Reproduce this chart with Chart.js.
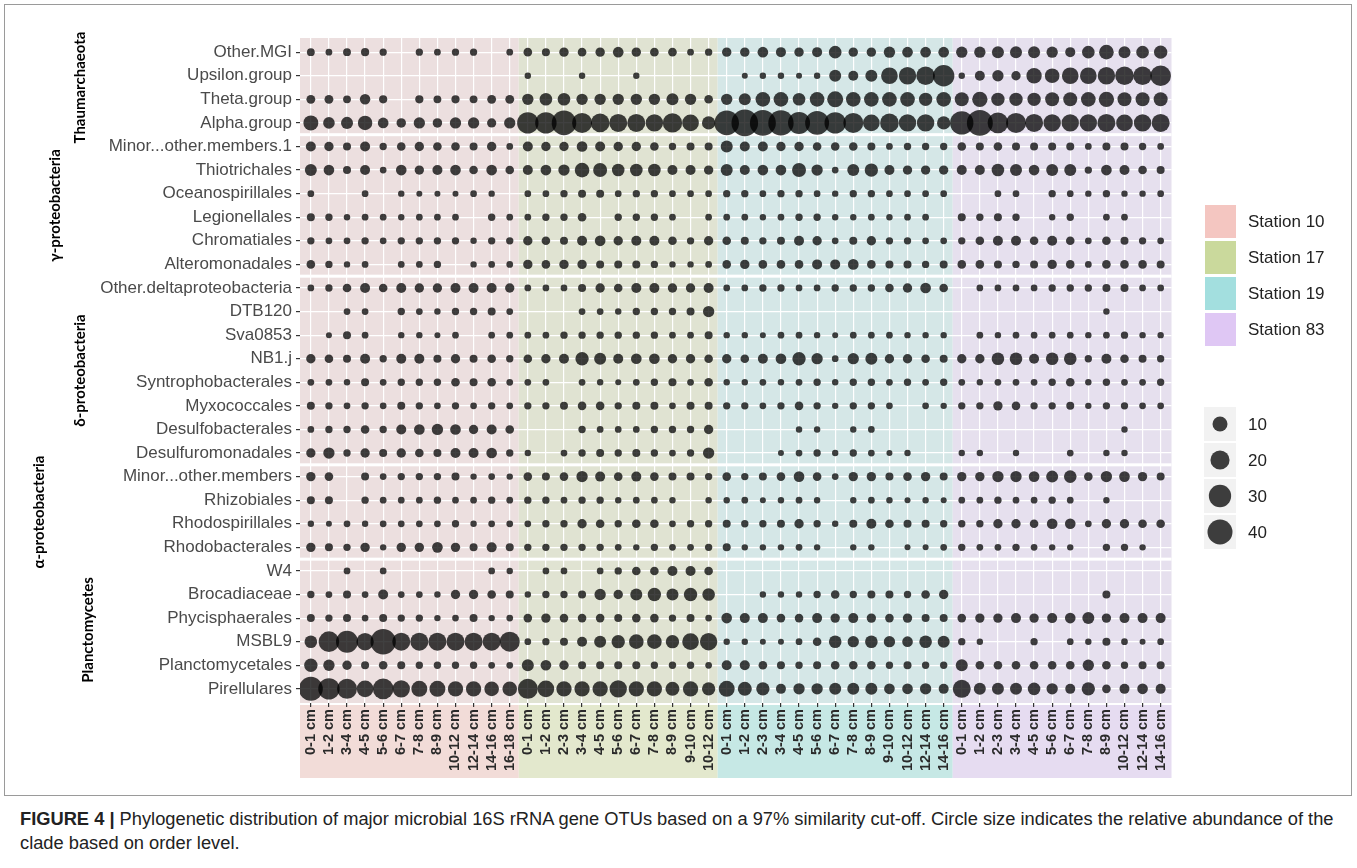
<!DOCTYPE html>
<html lang="en">
<head>
    <meta charset="UTF-8">
    <title>Figure 4 | OTU bubble chart</title>
    <script src="https://cdn.jsdelivr.net/npm/chart.js"></script>
    <style>
        body { margin: 0; background: #fff; font-family: "Liberation Sans", Arial, sans-serif; }
        #frame { position: absolute; left: 4px; top: 4px; width: 1348px; height: 792px; border: 1px solid #9a9a9a; box-sizing: border-box; }
        #wrap { position: absolute; left: 0; top: 0; width: 1357px; height: 800px; }
        #caption { position: absolute; left: 20px; top: 807px; width: 1335px; font-size: 18.3px; line-height: 24px; color: #222; white-space: nowrap; }
        #caption b { font-weight: bold; }
    </style>
</head>
<body>
    <div id="frame"></div>
    <div id="wrap"><canvas id="bubbleChart"></canvas></div>
    <div id="caption"><b>FIGURE 4 |</b> Phylogenetic distribution of major microbial 16S rRNA gene OTUs based on a 97% similarity cut-off. Circle size indicates the relative abundance of the<br>clade based on order level.</div>

    <script>
        // Row labels (top to bottom)
        const taxa = ['Other.MGI', 'Upsilon.group', 'Theta.group', 'Alpha.group',
            'Minor...other.members.1', 'Thiotrichales', 'Oceanospirillales', 'Legionellales', 'Chromatiales', 'Alteromonadales',
            'Other.deltaproteobacteria', 'DTB120', 'Sva0853', 'NB1.j', 'Syntrophobacterales', 'Myxococcales', 'Desulfobacterales', 'Desulfuromonadales',
            'Minor...other.members', 'Rhizobiales', 'Rhodospirillales', 'Rhodobacterales',
            'W4', 'Brocadiaceae', 'Phycisphaerales', 'MSBL9', 'Planctomycetales', 'Pirellulares'];

        // Facet groups: first row, last row
        const groupNames = ['Thaumarchaeota', 'γ-proteobacteria', 'δ-proteobacteria', 'α-proteobacteria', 'Planctomycetes'];
        const groupRows = [[0, 3], [4, 9], [10, 17], [18, 21], [22, 27]];

        // Depth labels per station
        const depths10 = ['0-1 cm', '1-2 cm', '3-4 cm', '4-5 cm', '5-6 cm', '6-7 cm', '7-8 cm', '8-9 cm', '10-12 cm', '12-14 cm', '14-16 cm', '16-18 cm'];
        const depths17 = ['0-1 cm', '1-2 cm', '2-3 cm', '3-4 cm', '4-5 cm', '5-6 cm', '6-7 cm', '7-8 cm', '8-9 cm', '9-10 cm', '10-12 cm'];
        const depths19 = ['0-1 cm', '1-2 cm', '2-3 cm', '3-4 cm', '4-5 cm', '5-6 cm', '6-7 cm', '7-8 cm', '8-9 cm', '9-10 cm', '10-12 cm', '12-14 cm', '14-16 cm'];
        const depths83 = ['0-1 cm', '1-2 cm', '2-3 cm', '3-4 cm', '4-5 cm', '5-6 cm', '6-7 cm', '7-8 cm', '8-9 cm', '10-12 cm', '12-14 cm', '14-16 cm'];

        // Relative abundance, one row per taxon (same order as taxa), one value per depth; 0 = absent
        const station10 = [
            [0.8, 0.3, 0.8, 1.0, 0.5, 0, 0.5, 0.3, 0.5, 0.5, 0, 0.3],
            [0, 0, 0, 0, 0, 0, 0, 0, 0, 0, 0, 0],
            [1.5, 1.5, 0.8, 3, 1, 0, 1, 0.8, 1, 0.8, 1.5, 1.5],
            [10, 4.4, 5, 9, 3.2, 2, 4, 2, 4, 4, 1.8, 4],
            [2.5, 1.9, 0.9, 2.5, 0.55, 1.3, 1.9, 1.3, 1.3, 0.9, 1.9, 0.3],
            [4.9, 3.2, 0.9, 2.5, 0.3, 3.2, 1.9, 2.5, 3.2, 1.3, 3.2, 1.3],
            [0.3, 0, 0, 0.3, 0, 0.2, 0.1, 0.1, 0.1, 0.3, 0.2, 0],
            [0.9, 0.55, 0.2, 0.3, 0.3, 0.2, 0.3, 0.3, 0.3, 0, 0.55, 0.3],
            [0.55, 0.3, 0.3, 0.55, 0.3, 0.55, 0.55, 0.55, 0.55, 0.2, 0.55, 0.55],
            [1.3, 0.55, 0.2, 0.3, 0, 0.3, 0.3, 0.55, 0, 0.2, 0.3, 0.3],
            [0.3, 0.55, 1.3, 2.5, 1.3, 2.5, 1.9, 1.9, 2.5, 2.5, 2.5, 1.9],
            [0, 0, 0.3, 0.3, 0, 0.55, 0.3, 0.2, 0.55, 0.55, 0.9, 0.3],
            [0, 0.1, 0.9, 0.3, 0, 0.2, 0.2, 0.1, 0.3, 0, 0.3, 0.3],
            [1.9, 1.3, 0.9, 2.5, 0.55, 2.5, 2.5, 0.9, 1.9, 0.9, 1.3, 0.55],
            [0.3, 0.3, 0.2, 0.9, 0.3, 0.55, 0.55, 0.55, 1.3, 0.9, 1.3, 0.3],
            [0.9, 0.55, 0.3, 0.55, 0.3, 0.9, 0.55, 0.3, 0.55, 0.3, 0.55, 0.3],
            [0.3, 0.55, 0.55, 1.3, 0.55, 2.5, 3.2, 4, 3.2, 1.9, 2.5, 1.3],
            [1.9, 4, 0.55, 1.9, 0.9, 1.9, 1.3, 0.9, 2.5, 2.5, 3.2, 0.55],
            [1.9, 1.3, 0, 0.9, 0.3, 0.55, 0.55, 0.55, 0.9, 0.2, 0.3, 0.2],
            [0.9, 0.9, 0, 0.55, 0.3, 0.3, 0.3, 0.55, 0.3, 0.3, 0.55, 0.3],
            [0.2, 0.1, 0.3, 0.2, 0.3, 0.3, 0.3, 0.3, 0.55, 0.2, 0.3, 0.3],
            [1.9, 0.9, 0.55, 1.9, 0.2, 1.9, 1.9, 3.2, 1.9, 0.9, 2.5, 0.9],
            [0, 0, 0.3, 0, 0.3, 0, 0, 0, 0, 0, 0.3, 0.2],
            [0.55, 0.3, 0.9, 0.3, 2.5, 0.3, 0.3, 0.2, 1.9, 1.9, 1.3, 0.9],
            [0.9, 0.55, 0.9, 0.3, 0.9, 0.55, 0.55, 0.2, 0.3, 0.9, 0.2, 0.3],
            [5.8, 24.5, 29, 15.4, 41.6, 17, 17, 17, 17, 17, 17, 22.5],
            [7, 4, 1.9, 0.9, 1.3, 0.9, 0.55, 0.55, 0.55, 0.55, 0.3, 0.3],
            [36, 27, 22.5, 13.7, 24.5, 15.4, 12.1, 12.1, 10.7, 10.7, 9.3, 9.3]
        ];

        const station17 = [
            [1.3, 0.9, 1.9, 1.3, 1.9, 3.2, 1.9, 1.3, 1.3, 0.3, 0.55],
            [0.2, 0, 0, 0.2, 0, 0, 0.2, 0, 0, 0, 0],
            [4, 5.8, 5.8, 4, 4, 4, 4, 4, 4.9, 4, 1.3],
            [27, 27, 38.6, 22.5, 18.6, 17, 17, 15.4, 20.6, 13.7, 7],
            [2.5, 1.9, 1.9, 3.2, 2.5, 1.9, 1.9, 1.3, 0.55, 0.9, 0.9],
            [2.5, 3.2, 4, 9.3, 8.1, 5.8, 5.8, 5.8, 2.5, 2.5, 1.9],
            [0.3, 0.3, 0.55, 0.9, 0.9, 0.3, 0.55, 0.55, 0.3, 0.3, 0.3],
            [0.3, 0.55, 0.55, 1.3, 0, 0.55, 0.55, 0.55, 0.3, 0, 0.3],
            [1.9, 1.3, 0.9, 2.5, 3.2, 1.9, 2.5, 2.5, 1.3, 0.55, 1.9],
            [1.9, 1.3, 1.9, 1.9, 0.9, 0.9, 0.9, 0.55, 0.2, 0.2, 0.3],
            [0.3, 0.3, 0.3, 0.9, 1.9, 1.3, 2.5, 2.5, 1.9, 1.9, 2.5],
            [0, 0, 0, 0.3, 0.3, 0.2, 0.55, 0.55, 0.55, 0.9, 4],
            [0.3, 0.3, 0.55, 0.55, 0.55, 0.55, 0.55, 0.55, 0.3, 0.3, 0.9],
            [1.3, 1.9, 2.5, 7, 4.9, 2.5, 3.2, 3.2, 1.9, 1.9, 1.3],
            [0.3, 0.3, 0, 0.3, 0.2, 0.1, 0.3, 0.55, 0.9, 0.3, 1.3],
            [0.55, 0.55, 0.9, 1.3, 1.3, 0.55, 0.9, 0.9, 0.3, 0.9, 0.9],
            [0, 0, 0, 0.55, 0.3, 0.3, 0.3, 0.55, 0.55, 0.55, 1.9],
            [0.2, 0, 0.3, 0.55, 0.9, 0.55, 0.9, 0.55, 0.3, 0.55, 4],
            [1.3, 0.9, 1.3, 4, 2.5, 1.3, 2.5, 1.3, 0.9, 0.9, 0.55],
            [0.55, 0.55, 0.3, 0.55, 0.55, 0.2, 0.3, 0.3, 0.2, 0, 0.2],
            [0.3, 0.55, 0.55, 1.9, 1.3, 0.55, 1.3, 1.3, 0.3, 0.55, 0.55],
            [0.55, 0.55, 0.55, 0.55, 0.55, 0.3, 0.2, 0.55, 0.3, 0.3, 0.55],
            [0, 0.3, 0.3, 0, 0.3, 0.55, 1.3, 1.3, 2.5, 2.5, 1.3],
            [0.2, 0.55, 0.55, 0.9, 4, 1.9, 4.9, 7, 4.9, 7, 5.8],
            [1.3, 1.9, 1.3, 1.3, 1.3, 0.9, 1.3, 1.3, 0.55, 0.9, 0.3],
            [0.3, 0.55, 0.9, 2.5, 4.9, 7, 9.3, 9.3, 7, 13.7, 15.4],
            [4.9, 3.2, 1.9, 0.9, 0.9, 0.9, 0.9, 0.55, 0.55, 0.55, 0.3],
            [22.5, 13.7, 10.7, 10.7, 10.7, 15.4, 10.7, 10.7, 8.1, 10.7, 7]
        ];

        const station19 = [
            [1.9, 1.9, 3.2, 2.5, 1.9, 2.5, 5.8, 1.9, 1.9, 4, 3.2, 3.2, 3.2],
            [0, 0.1, 0.2, 0.2, 0.1, 0.2, 4.9, 2.5, 4.9, 13.7, 15.4, 18.6, 27],
            [4, 4.9, 9.3, 9.3, 5.8, 9.3, 12.1, 9.3, 9.3, 9.3, 9.3, 7, 9.3],
            [38.6, 46.8, 44, 41.6, 29, 36, 27, 22.5, 13.7, 18.6, 15.4, 15.4, 7],
            [4.9, 2.5, 2.5, 1.9, 1.9, 1.3, 1.3, 1.3, 0.9, 0.3, 0.55, 0.55, 0.55],
            [4.9, 2.5, 3.2, 3.2, 8.1, 4, 0.3, 4.9, 7, 2.5, 1.9, 1.9, 1.9],
            [0.55, 0.55, 0.3, 0.55, 0.55, 0.3, 0.2, 0.55, 0.55, 0.3, 0.3, 0.3, 0.3],
            [0.3, 0.3, 0.2, 0.3, 0.55, 0.55, 0.2, 0.2, 0.3, 0.2, 0.3, 0.3, 0],
            [1.3, 0.9, 0.55, 0.9, 2.5, 1.9, 0.3, 0.9, 1.9, 0.55, 0.55, 0.3, 0.3],
            [1.3, 1.9, 1.3, 1.3, 1.3, 2.5, 2.5, 3.2, 1.3, 0.9, 0.9, 0.55, 0.9],
            [0.3, 0.3, 0.55, 0.55, 0.3, 0.3, 0.55, 0.55, 0.55, 1.3, 1.9, 3.2, 1.3],
            [0, 0, 0, 0, 0, 0, 0, 0, 0, 0, 0, 0, 0],
            [0.2, 0.2, 0.1, 0.3, 0.3, 0.2, 0.1, 0.3, 0.3, 0.3, 0.2, 0.2, 0.2],
            [1.9, 1.3, 2.5, 3.2, 7, 4, 0.3, 4, 4.9, 1.9, 1.9, 1.3, 0.9],
            [0.2, 0.2, 0.3, 0.2, 0.3, 0.55, 0.2, 0.55, 0.55, 0.3, 0.55, 0.3, 0.55],
            [0.55, 0.55, 0.3, 0.55, 1.3, 0.55, 0.2, 0.55, 0.55, 0.3, 0, 0.3, 0.2],
            [0, 0, 0, 0, 0.2, 0.2, 0, 0.2, 0.3, 0, 0, 0, 0],
            [0, 0, 0, 0.1, 0.3, 0.55, 0.2, 0.55, 0.3, 0.1, 0.2, 0, 0],
            [1.3, 0.55, 0.9, 1.3, 3.2, 1.3, 0.3, 1.9, 1.9, 0.9, 1.3, 1.9, 0.9],
            [0.2, 0.3, 0.1, 0.2, 0.3, 0.2, 0, 0.2, 0.3, 0.2, 0.1, 0.2, 0.1],
            [0.9, 0.55, 0.55, 0.9, 1.9, 0.55, 0.2, 0.9, 2.5, 1.3, 0.9, 0.9, 0.55],
            [0.9, 0.2, 0.2, 0.2, 0.3, 0.2, 0, 0.2, 0.2, 0, 0.1, 0.1, 0.3],
            [0, 0, 0, 0, 0, 0, 0, 0, 0, 0, 0, 0, 0],
            [0, 0, 0.2, 0.2, 0.2, 0.55, 1.3, 0.55, 0.9, 0.9, 0.55, 1.3, 1.9],
            [3.2, 2.5, 2.5, 1.3, 1.3, 2.5, 1.9, 2.5, 1.9, 1.3, 1.9, 0.9, 0.9],
            [0.2, 0.2, 0.1, 0.1, 0.3, 1.3, 5.8, 4, 5.8, 4, 3.2, 5.8, 4.9],
            [2.5, 2.5, 1.3, 0.9, 0.55, 0.9, 1.3, 1.3, 1.3, 0.55, 0.9, 0.55, 0.55],
            [12.1, 8.1, 7, 2.5, 4, 4, 4.9, 4.9, 4.9, 3.2, 3.2, 4, 2.5]
        ];

        const station83 = [
            [4, 4, 4.9, 4.9, 4.9, 4, 2.5, 5.8, 9.3, 4.9, 5.8, 7],
            [0.2, 2.5, 4, 1.9, 10.7, 9.3, 13.7, 13.7, 15.4, 18.6, 18.6, 24.5],
            [8.1, 10.7, 7, 7, 7, 8.1, 8.1, 9.3, 10.7, 8.1, 8.1, 8.1],
            [33.9, 44, 24.5, 22.5, 17, 15.4, 15.4, 15.4, 17, 13.7, 15.4, 17],
            [1.3, 0.9, 1.3, 0.9, 0.9, 0.9, 0.9, 0.3, 0.9, 0.9, 0.55, 0.3],
            [2.5, 2.5, 5.8, 4.9, 3.2, 4.9, 4.9, 0.55, 3.2, 2.5, 1.3, 0.9],
            [0, 0, 0.3, 0.3, 0, 0.55, 0.3, 0.2, 0.55, 0.2, 0.2, 0.3],
            [0.9, 0.55, 0.9, 0.55, 0, 0.2, 0.55, 0, 0.3, 0.3, 0, 0],
            [0.55, 1.3, 2.5, 2.5, 1.3, 2.5, 1.3, 0.3, 1.3, 0.9, 0.55, 0.3],
            [1.3, 1.3, 0.9, 0.55, 0.9, 1.9, 1.3, 0.3, 1.3, 1.3, 1.3, 0.9],
            [0, 0.3, 0.3, 0.3, 0.3, 0.55, 0.55, 0.55, 0.9, 0.9, 0.3, 0.3],
            [0, 0, 0, 0, 0, 0, 0, 0, 0.2, 0, 0, 0],
            [0, 0.3, 0.2, 0.3, 0.3, 0.3, 0.3, 0.2, 0.3, 0.55, 0.2, 0.2],
            [1.9, 1.9, 5.8, 5.8, 2.5, 5.8, 5.8, 0.55, 2.5, 1.3, 0.9, 0.55],
            [0.3, 0.2, 0.3, 0.3, 0.3, 0.55, 1.3, 0.2, 0.55, 0.3, 0.3, 0.55],
            [0.55, 0.55, 1.9, 1.3, 0.55, 0.55, 0.9, 0.2, 0.55, 0.55, 0.3, 0.3],
            [0, 0, 0, 0, 0, 0, 0, 0, 0, 0.2, 0, 0],
            [0.2, 0.2, 0, 0.2, 0, 0, 0.3, 0, 0.2, 0.2, 0, 0],
            [1.9, 1.9, 4, 4, 3.2, 4.9, 5.8, 1.3, 4, 3.2, 1.9, 0.9],
            [0.3, 0.3, 0.55, 0.3, 0.3, 0.55, 0.3, 0, 0.2, 0, 0, 0],
            [0.55, 0.55, 1.9, 1.9, 1.3, 3.2, 3.2, 0.3, 1.9, 1.9, 1.3, 1.3],
            [0.55, 0.3, 0.3, 0.55, 0.3, 0.2, 0.2, 0, 0.55, 0.55, 0.2, 0],
            [0, 0, 0, 0, 0, 0, 0, 0, 0, 0, 0, 0],
            [0, 0, 0, 0, 0, 0, 0, 0, 0.9, 0, 0, 0],
            [1.3, 1.9, 1.9, 2.5, 1.9, 2.5, 3.2, 4.9, 1.9, 2.5, 2.5, 2.5],
            [0.55, 0.2, 0, 0, 0.55, 0, 0.3, 0.2, 0.9, 0.3, 0.1, 0.3],
            [4.9, 1.3, 1.3, 1.3, 1.3, 1.3, 1.3, 4, 1.3, 0.55, 0.9, 0.9],
            [17, 4.9, 4.9, 4.9, 5.8, 4, 2.5, 7, 1.3, 2.5, 3.2, 2.5]
        ];

        const stationNames = ['Station 10', 'Station 17', 'Station 19', 'Station 83'];
        const sizeBreaks = [10, 20, 30, 40];

        // Colours
        const panelFill = ['#ecdfdf', '#e0e3d2', '#d5e7e7', '#e6e0ee'];
        const stripFill = ['#f2dcd8', '#e3e8cd', '#c6e8e5', '#e6dcf1'];
        const keyFill = ['#f4c6c1', '#cad99c', '#a3dfdf', '#dfc7f4'];
        const dotColor = 'rgba(0, 0, 0, 0.75)';

        // size scale: relative abundance -> radius (px)
        function radius(v) {
            return 2.5 + 1.58 * Math.sqrt(v);
        }

        const stationData = [station10, station17, station19, station83];
        const depthSets = [depths10, depths17, depths19, depths83];
        const xLabels = [].concat(...depthSets);

        // column offset of each station
        const offsets = [];
        let acc = 0;
        depthSets.forEach(d => { offsets.push(acc); acc += d.length; });
        const nCols = acc;

        const datasets = stationData.map((rows, s) => {
            const pts = [];
            rows.forEach((vals, r) => {
                vals.forEach((v, c) => {
                    if (v > 0) pts.push({ x: offsets[s] + c, y: r, r: radius(v), v: v });
                });
            });
            return {
                label: stationNames[s],
                data: pts,
                backgroundColor: dotColor,
                borderWidth: 0,
                hoverBorderWidth: 0
            };
        });

        const decor = {
            id: 'decor',
            beforeDraw(chart) {
                const { ctx, chartArea: a, scales: { x, y } } = chart;
                ctx.save();
                depthSets.forEach((d, s) => {
                    const x0 = s === 0 ? a.left : x.getPixelForValue(offsets[s] - 0.5);
                    const x1 = s === 3 ? a.right : x.getPixelForValue(offsets[s] + d.length - 0.5);
                    ctx.fillStyle = panelFill[s];
                    ctx.fillRect(x0, a.top, x1 - x0, a.bottom - a.top);
                    ctx.fillStyle = stripFill[s];
                    ctx.fillRect(x0, a.bottom + 2, x1 - x0, 778 - a.bottom - 2);
                });
                ctx.restore();
            },
            beforeDatasetsDraw(chart) {
                const { ctx, chartArea: a, scales: { y } } = chart;
                ctx.save();
                ctx.fillStyle = '#ffffff';
                groupRows.slice(1).forEach(g => {
                    const py = y.getPixelForValue(g[0] - 0.5);
                    ctx.fillRect(a.left, py - 1.5, a.right - a.left, 3);
                });
                ctx.restore();
            },
            afterDraw(chart) {
                const { ctx, scales: { y } } = chart;
                ctx.save();
                // facet labels
                const gx = [80, 55, 80, 39, 88];
                ctx.fillStyle = '#000';
                ctx.font = 'bold 15px Lato, "Liberation Sans", sans-serif';
                ctx.textAlign = 'center';
                ctx.textBaseline = 'middle';
                groupNames.forEach((n, i) => {
                    const cy = (y.getPixelForValue(groupRows[i][0]) + y.getPixelForValue(groupRows[i][1])) / 2;
                    ctx.save();
                    ctx.translate(gx[i], cy);
                    ctx.rotate(-Math.PI / 2);
                    ctx.fillText(n, 0, 0);
                    ctx.restore();
                });

                // station legend
                ctx.textAlign = 'left';
                ctx.font = '17px "Liberation Sans", Arial, sans-serif';
                stationNames.forEach((n, i) => {
                    const top = 205 + i * 36;
                    ctx.fillStyle = keyFill[i];
                    ctx.fillRect(1205, top, 31, 33);
                    ctx.fillStyle = '#222';
                    ctx.fillText(n, 1248, top + 17);
                });

                // size legend
                sizeBreaks.forEach((v, i) => {
                    const top = 407 + i * 36;
                    ctx.fillStyle = '#f2f2f2';
                    ctx.fillRect(1204, top, 32, 34);
                    ctx.fillStyle = dotColor;
                    ctx.beginPath();
                    ctx.arc(1220, top + 17, radius(v), 0, Math.PI * 2);
                    ctx.fill();
                    ctx.fillStyle = '#222';
                    ctx.fillText(String(v), 1248, top + 18);
                });
                ctx.restore();
            }
        };

        new Chart(document.getElementById('bubbleChart'), {
            type: 'bubble',
            data: { datasets: datasets },
            options: {
                responsive: true,
                maintainAspectRatio: false,
                animation: false,
                layout: { padding: { top: 38, right: 185.5, bottom: 0, left: 0 } },
                plugins: {
                    legend: { display: false },
                    tooltip: {
                        callbacks: {
                            label: c => taxa[c.raw.y] + ', ' + xLabels[c.raw.x] + ': ' + c.raw.v
                        }
                    }
                },
                scales: {
                    x: {
                        type: 'linear',
                        min: -0.6,
                        max: nCols - 0.4,
                        afterBuildTicks: s => { s.ticks = xLabels.map((_, i) => ({ value: i })); },
                        afterFit: s => { s.height = 97; },
                        grid: { color: '#ffffff', lineWidth: 1.2, tickColor: '#333', tickLength: 4 },
                        border: { display: false },
                        ticks: {
                            autoSkip: false,
                            minRotation: 90,
                            maxRotation: 90,
                            padding: 2,
                            color: '#2a2a2a',
                            font: { family: '"Liberation Sans", Arial, sans-serif', size: 14.5, weight: 'bold' },
                            callback: v => xLabels[v]
                        }
                    },
                    y: {
                        type: 'linear',
                        reverse: true,
                        min: -0.6,
                        max: taxa.length - 0.4,
                        afterBuildTicks: s => { s.ticks = taxa.map((_, i) => ({ value: i })); },
                        afterFit: s => { s.width = 300; },
                        grid: { color: '#ffffff', lineWidth: 1.2, tickColor: '#333', tickLength: 4 },
                        border: { display: false },
                        ticks: {
                            autoSkip: false,
                            padding: 4,
                            color: '#4a4a4a',
                            font: { family: '"Liberation Sans", Arial, sans-serif', size: 17 },
                            callback: v => taxa[v]
                        }
                    }
                }
            },
            plugins: [decor]
        });
    </script>
</body>
</html>
